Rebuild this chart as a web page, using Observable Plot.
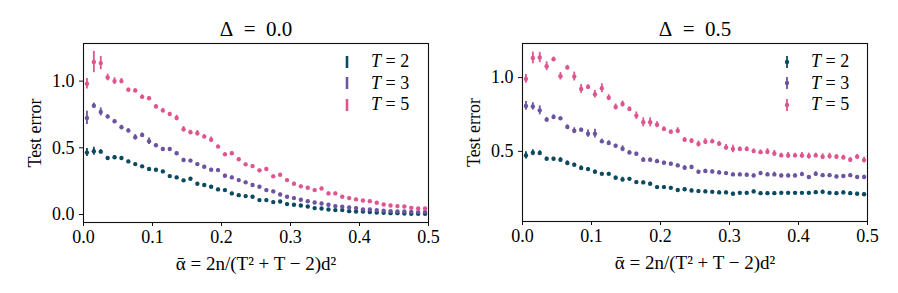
<!DOCTYPE html>
<html>
<head>
<meta charset="utf-8">
<script src="https://cdn.jsdelivr.net/npm/d3@7"></script>
<script src="https://cdn.jsdelivr.net/npm/@observablehq/plot@0.6"></script>
<style>
  body { margin: 0; background: white; }
  #wrap { position: relative; width: 898px; height: 293px; font-family: "Liberation Serif", serif; }
  .panel { position: absolute; top: 0; width: 449px; height: 293px; }
  .legend { position: absolute; font-size: 18px; line-height: 21.5px; color: #000; }
  .legend div { display: flex; align-items: center; height: 21.5px; }
  .legend svg { margin-right: 18px; }
</style>
</head>
<body>
<div id="wrap"></div>
<script>
const alpha = [0.005,0.015,0.025,0.035,0.045,0.055,0.065,0.075,0.085,0.095,
  0.105,0.115,0.125,0.135,0.145,0.155,0.165,0.175,0.185,0.195,
  0.205,0.215,0.225,0.235,0.245,0.255,0.265,0.275,0.285,0.295,
  0.305,0.315,0.325,0.335,0.345,0.355,0.365,0.375,0.385,0.395,
  0.405,0.415,0.425,0.435,0.445,0.455,0.465,0.475,0.485,0.495];

const seriesT = ["T = 2", "T = 3", "T = 5"];
const colors = ["#0b4a60", "#6c54a0", "#de5590"];
const titles = ["Δ\u2002=\u20020.0", "Δ\u2002=\u20020.5"];
const xTicks = [0, 0.1, 0.2, 0.3, 0.4, 0.5];
const yTicksLeft = [0, 0.5, 1.0];
const yTicksRight = [0.5, 1.0];

// Delta = 0.0
const d0_T2 = [0.464,0.474,0.471,0.424,0.429,0.424,0.398,0.378,0.361,0.341,
  0.336,0.323,0.288,0.278,0.256,0.268,0.231,0.221,0.208,0.188,
  0.183,0.158,0.145,0.138,0.133,0.108,0.108,0.093,0.098,0.078,
  0.073,0.068,0.060,0.048,0.045,0.038,0.033,0.033,0.025,0.023,
  0.023,0.018,0.015,0.013,0.010,0.010,0.008,0.005,0.005,0.005];
const d0_T2_err = [0.03,0.03,0.015,0.01,0.01,0.01,0.008,0.008,0.008,0.008,
  0.008,0.008,0.008,0.008,0.008,0.008,0.008,0.008,0.008,0.008,
  0.008,0.008,0.008,0.008,0.008,0.008,0.008,0.008,0.008,0.008,
  0.006,0.006,0.006,0.006,0.006,0.006,0.006,0.006,0.006,0.006,
  0.005,0.005,0.005,0.005,0.005,0.005,0.005,0.005,0.005,0.005];
const d0_T3 = [0.724,0.815,0.769,0.734,0.699,0.654,0.629,0.579,0.596,0.549,
  0.519,0.491,0.491,0.459,0.409,0.404,0.378,0.358,0.336,0.333,
  0.291,0.278,0.258,0.241,0.221,0.208,0.183,0.173,0.150,0.133,
  0.123,0.110,0.100,0.090,0.083,0.073,0.063,0.058,0.053,0.048,
  0.038,0.038,0.033,0.028,0.025,0.023,0.023,0.020,0.018,0.018];
const d0_T3_err = [0.05,0.02,0.03,0.015,0.01,0.015,0.015,0.02,0.015,0.025,
  0.01,0.01,0.01,0.01,0.012,0.01,0.01,0.01,0.01,0.01,
  0.01,0.01,0.01,0.01,0.01,0.01,0.01,0.01,0.01,0.01,
  0.008,0.008,0.008,0.008,0.008,0.008,0.008,0.008,0.008,0.008,
  0.006,0.006,0.006,0.006,0.006,0.006,0.006,0.006,0.006,0.006];
const d0_T5 = [0.980,1.143,1.135,1.027,1.000,1.000,0.935,0.930,0.882,0.872,
  0.810,0.780,0.754,0.724,0.639,0.617,0.609,0.584,0.561,0.509,
  0.451,0.459,0.414,0.376,0.363,0.331,0.341,0.286,0.298,0.258,
  0.231,0.211,0.200,0.183,0.195,0.158,0.158,0.133,0.123,0.113,
  0.105,0.100,0.088,0.075,0.068,0.063,0.060,0.050,0.045,0.045];
const d0_T5_err = [0.04,0.08,0.05,0.025,0.025,0.02,0.012,0.012,0.015,0.012,
  0.015,0.015,0.012,0.02,0.02,0.015,0.02,0.015,0.02,0.012,
  0.012,0.012,0.01,0.01,0.01,0.01,0.012,0.01,0.01,0.01,
  0.01,0.01,0.01,0.01,0.01,0.01,0.01,0.01,0.008,0.008,
  0.008,0.008,0.008,0.008,0.008,0.008,0.008,0.008,0.008,0.008];

// Delta = 0.5
const d5_T2 = [0.473,0.491,0.489,0.450,0.450,0.443,0.421,0.410,0.387,0.380,
  0.362,0.348,0.348,0.321,0.310,0.314,0.292,0.290,0.281,0.258,
  0.258,0.253,0.238,0.244,0.235,0.231,0.229,0.226,0.222,0.222,
  0.213,0.219,0.219,0.229,0.217,0.217,0.217,0.219,0.219,0.219,
  0.219,0.219,0.224,0.226,0.219,0.217,0.222,0.217,0.213,0.210];
const d5_T2_err = [0.025,0.02,0.015,0.01,0.01,0.015,0.015,0.01,0.015,0.01,
  0.012,0.01,0.01,0.012,0.015,0.01,0.01,0.01,0.01,0.01,
  0.01,0.01,0.01,0.01,0.01,0.01,0.01,0.01,0.01,0.01,
  0.01,0.01,0.01,0.01,0.01,0.01,0.01,0.01,0.01,0.01,
  0.01,0.01,0.01,0.012,0.01,0.01,0.01,0.01,0.01,0.01];
const d5_T3 = [0.808,0.805,0.778,0.715,0.733,0.724,0.665,0.640,0.647,0.620,
  0.620,0.568,0.557,0.538,0.518,0.493,0.484,0.443,0.443,0.434,
  0.423,0.416,0.405,0.389,0.394,0.362,0.367,0.364,0.357,0.353,
  0.344,0.344,0.342,0.337,0.353,0.344,0.344,0.337,0.337,0.337,
  0.346,0.326,0.348,0.339,0.339,0.330,0.333,0.339,0.326,0.326];
const d5_T3_err = [0.03,0.025,0.03,0.015,0.015,0.01,0.015,0.02,0.01,0.025,
  0.03,0.015,0.015,0.01,0.02,0.012,0.01,0.015,0.012,0.012,
  0.01,0.01,0.01,0.015,0.012,0.01,0.012,0.01,0.012,0.01,
  0.01,0.01,0.01,0.01,0.012,0.012,0.015,0.01,0.01,0.01,
  0.012,0.01,0.015,0.01,0.01,0.01,0.01,0.01,0.01,0.012];
const d5_T5 = [0.991,1.133,1.136,1.077,1.124,1.009,1.068,1.007,0.923,0.937,
  0.887,0.928,0.864,0.801,0.821,0.787,0.742,0.697,0.697,0.681,
  0.652,0.633,0.640,0.579,0.572,0.550,0.566,0.568,0.552,0.527,
  0.516,0.516,0.516,0.502,0.495,0.498,0.486,0.473,0.473,0.473,
  0.473,0.468,0.473,0.464,0.468,0.464,0.459,0.443,0.464,0.441];
const d5_T5_err = [0.03,0.04,0.035,0.03,0.015,0.025,0.015,0.03,0.03,0.015,
  0.025,0.03,0.02,0.02,0.02,0.015,0.025,0.03,0.03,0.02,
  0.015,0.012,0.02,0.015,0.015,0.02,0.02,0.015,0.015,0.02,
  0.025,0.015,0.015,0.015,0.015,0.02,0.02,0.015,0.02,0.015,
  0.02,0.02,0.015,0.02,0.02,0.015,0.015,0.015,0.015,0.02];

function rows(vals, errs, series) {
  return alpha.map((a, i) => ({a, y: vals[i], lo: vals[i] - errs[i], hi: vals[i] + errs[i], series}));
}

const panels = [
  {
    left: 0, title: titles[0], yDomain: [-0.06, 1.282], yTicks: yTicksLeft,
    marginLeft: 83, marginRight: 21, marginBottom: 71,
    data: [...rows(d0_T2, d0_T2_err, seriesT[0]), ...rows(d0_T3, d0_T3_err, seriesT[1]), ...rows(d0_T5, d0_T5_err, seriesT[2])],
    legend: {left: 341, top: 51}, legendDot: false
  },
  {
    left: 449, title: titles[1], yDomain: [0.025, 1.231], yTicks: yTicksRight,
    marginLeft: 73, marginRight: 31, marginBottom: 72,
    data: [...rows(d5_T2, d5_T2_err, seriesT[0]), ...rows(d5_T3, d5_T3_err, seriesT[1]), ...rows(d5_T5, d5_T5_err, seriesT[2])],
    legend: {left: 332, top: 51}, legendDot: true
  }
];

const wrap = document.getElementById("wrap");
const fmt = d3.format(".1f");

for (const p of panels) {
  const div = document.createElement("div");
  div.className = "panel";
  div.style.left = p.left + "px";
  const plot = Plot.plot({
    width: 449,
    height: 293,
    marginLeft: p.marginLeft,
    marginRight: p.marginRight,
    marginTop: 43,
    marginBottom: p.marginBottom,
    style: {fontFamily: "Liberation Serif, serif", fontSize: "18px", color: "#000", background: "white"},
    x: {domain: [0, 0.5]},
    y: {domain: p.yDomain},
    color: {domain: seriesT, range: colors},
    marks: [
      Plot.ruleX(p.data, {x: "a", y1: "lo", y2: "hi", stroke: "series", strokeWidth: 1.8}),
      Plot.dot(p.data, {x: "a", y: "y", fill: "series", r: 2.2}),
      Plot.frame({stroke: "#111", strokeWidth: 1.1}),
      Plot.axisX(xTicks, {tickFormat: fmt, tickSize: 4, tickPadding: 4, fontSize: 18, label: null, stroke: "#111", fill: "#000"}),
      Plot.axisY(p.yTicks, {tickFormat: fmt, tickSize: 4, tickPadding: 5, fontSize: 18, label: null, stroke: "#111", fill: "#000"}),
      Plot.text([p.title], {frameAnchor: "top", lineAnchor: "middle", dy: -14, fontSize: 21, fill: "#000"}),
      Plot.text(["ᾱ = 2n/(T² + T − 2)d²"], {frameAnchor: "bottom", lineAnchor: "middle", dy: 41, fontSize: 19, fill: "#000", ariaLabel: "xlabel"}),
      Plot.text(["Test error"], {frameAnchor: "left", textAnchor: "middle", lineAnchor: "middle", rotate: -90, dx: -48, fontSize: 18, fill: "#000"})
    ]
  });
  // rich x label with italic variables and math spacing
  const xl = d3.select(plot).select('g[aria-label="xlabel"] text');
  xl.text(null);
  const parts = [["ᾱ", true], ["\u2002=\u20022", false], ["n", true], ["/(", false], ["T", true], ["²\u2002+\u2002", false], ["T", true], ["\u2002−\u20022)", false], ["d", true], ["²", false]];
  for (const [t, it] of parts) xl.append("tspan").attr("font-style", it ? "italic" : null).text(t);
  div.appendChild(plot);

  const lg = document.createElement("div");
  lg.className = "legend";
  lg.style.left = p.legend.left + "px";
  lg.style.top = p.legend.top + "px";
  seriesT.forEach((s, i) => {
    const row = document.createElement("div");
    const dot = p.legendDot ? `<circle cx="6" cy="7" r="2.2" fill="${colors[i]}"/>` : "";
    row.innerHTML = `<svg width="12" height="14"><line x1="6" x2="6" y1="1" y2="13" stroke="${colors[i]}" stroke-width="${p.legendDot ? 1.8 : 2.6}"/>${dot}</svg><span><i>T</i> = ${s.split(" = ")[1]}</span>`;
    lg.appendChild(row);
  });
  div.appendChild(lg);
  wrap.appendChild(div);
}
</script>
</body>
</html>
